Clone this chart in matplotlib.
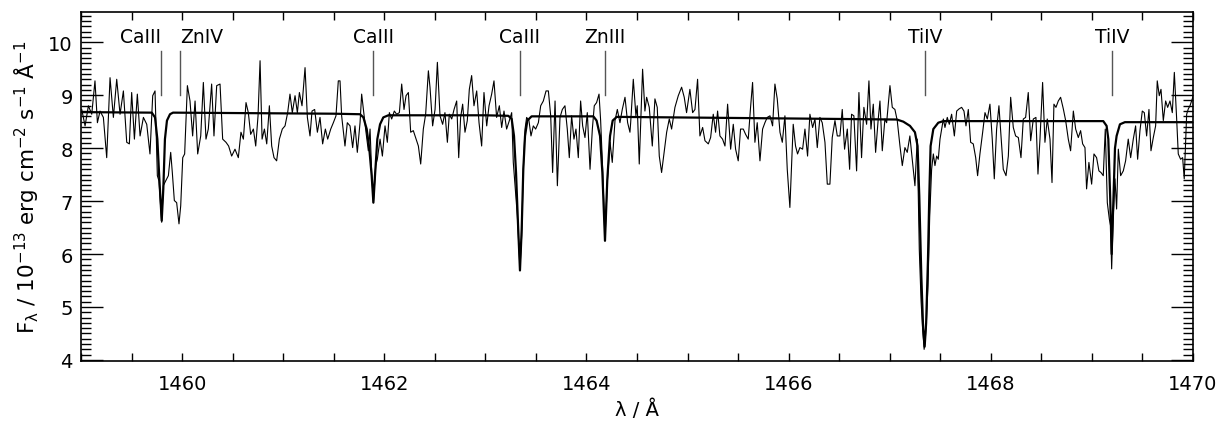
import numpy as np
import matplotlib.pyplot as plt
from matplotlib.ticker import MultipleLocator

plt.rcParams['font.family'] = 'DejaVu Sans'
plt.rcParams['mathtext.default'] = 'regular'

# observed spectrum (wavelength in A, flux in 1e-13 erg/cm2/s/A)
obs_wave = [
    1459.007, 1459.040, 1459.073, 1459.106, 1459.138, 1459.162, 1459.188, 1459.221, 1459.254, 1459.287,
    1459.320, 1459.353, 1459.386, 1459.419, 1459.452, 1459.478, 1459.501, 1459.528, 1459.557, 1459.584,
    1459.617, 1459.650, 1459.682, 1459.709, 1459.732, 1459.755, 1459.771, 1459.798, 1459.814, 1459.837,
    1459.864, 1459.887, 1459.903, 1459.923, 1459.946, 1459.969, 1459.986, 1460.006, 1460.025, 1460.052,
    1460.078, 1460.104, 1460.128, 1460.154, 1460.184, 1460.210, 1460.236, 1460.259, 1460.292, 1460.315,
    1460.342, 1460.375, 1460.401, 1460.434, 1460.460, 1460.490, 1460.523, 1460.556, 1460.582, 1460.606,
    1460.632, 1460.655, 1460.678, 1460.705, 1460.728, 1460.751, 1460.771, 1460.791, 1460.814, 1460.837,
    1460.863, 1460.886, 1460.909, 1460.935, 1460.962, 1460.991, 1461.018, 1461.044, 1461.067, 1461.090,
    1461.117, 1461.140, 1461.160, 1461.186, 1461.216, 1461.239, 1461.265, 1461.285, 1461.311, 1461.338,
    1461.364, 1461.390, 1461.417, 1461.440, 1461.470, 1461.496, 1461.522, 1461.545,
    1461.562, 1461.578, 1461.611, 1461.634, 1461.661, 1461.687, 1461.710, 1461.733, 1461.760, 1461.776,
    1461.799, 1461.819, 1461.842, 1461.859, 1461.875, 1461.892, 1461.915, 1461.931, 1461.958, 1461.981,
    1462.007, 1462.030, 1462.050, 1462.073, 1462.099, 1462.122, 1462.149, 1462.172, 1462.195, 1462.215,
    1462.238, 1462.261, 1462.287, 1462.314, 1462.337, 1462.360, 1462.386, 1462.409, 1462.436, 1462.452,
    1462.478, 1462.502, 1462.525, 1462.551, 1462.577, 1462.600, 1462.624, 1462.643, 1462.667, 1462.690,
    1462.716, 1462.736, 1462.755, 1462.775, 1462.798, 1462.821, 1462.841, 1462.864, 1462.887, 1462.914,
    1462.937, 1462.963, 1462.986, 1463.013, 1463.036, 1463.062, 1463.085, 1463.111, 1463.138, 1463.161,
    1463.184, 1463.210, 1463.237, 1463.260, 1463.276, 1463.293, 1463.316, 1463.342, 1463.359, 1463.375,
    1463.392, 1463.408, 1463.431, 1463.451, 1463.474, 1463.497, 1463.524, 1463.547, 1463.573, 1463.600,
    1463.623, 1463.646, 1463.665, 1463.689, 1463.712, 1463.738, 1463.761, 1463.787, 1463.810, 1463.830,
    1463.853, 1463.876, 1463.896, 1463.919, 1463.942, 1463.962, 1463.985, 1464.008, 1464.035, 1464.058,
    1464.077, 1464.100, 1464.124, 1464.140, 1464.160, 1464.183, 1464.206, 1464.233, 1464.255, 1464.282,
    1464.305, 1464.331, 1464.354, 1464.381, 1464.407, 1464.430,
    1464.437, 1464.463, 1464.489, 1464.502, 1464.522, 1464.555, 1464.578, 1464.595, 1464.621, 1464.651,
    1464.677, 1464.700, 1464.720, 1464.743, 1464.766, 1464.793, 1464.819, 1464.842, 1464.875, 1464.908,
    1464.941, 1464.967, 1464.990, 1465.023, 1465.050, 1465.073, 1465.099, 1465.122, 1465.149, 1465.172,
    1465.205, 1465.228, 1465.254, 1465.277, 1465.297, 1465.320, 1465.346, 1465.370, 1465.396, 1465.426,
    1465.452, 1465.475, 1465.501, 1465.524, 1465.551, 1465.574, 1465.600, 1465.623, 1465.643, 1465.666,
    1465.689, 1465.716, 1465.742, 1465.765, 1465.788, 1465.815, 1465.841, 1465.864, 1465.887, 1465.914,
    1465.937, 1465.963, 1465.986, 1466.012, 1466.045, 1466.068, 1466.088, 1466.111, 1466.138, 1466.161,
    1466.187, 1466.210, 1466.237, 1466.260, 1466.283, 1466.309, 1466.332, 1466.359, 1466.382, 1466.408,
    1466.431, 1466.458, 1466.481, 1466.507, 1466.530, 1466.553, 1466.580, 1466.603, 1466.622, 1466.645,
    1466.672, 1466.695, 1466.721, 1466.744, 1466.771, 1466.794, 1466.814, 1466.837, 1466.860, 1466.886,
    1466.903, 1466.926, 1466.952, 1466.969, 1467.002, 1467.025, 1467.051, 1467.074, 1467.101, 1467.124,
    1467.150, 1467.173, 1467.199, 1467.226, 1467.249, 1467.272, 1467.292,
    1467.310, 1467.325, 1467.340, 1467.350, 1467.362, 1467.378, 1467.395,
    1467.414, 1467.431, 1467.447, 1467.464, 1467.480, 1467.497, 1467.513, 1467.530, 1467.546, 1467.569,
    1467.589, 1467.612, 1467.639, 1467.662, 1467.685, 1467.711, 1467.734, 1467.754, 1467.777, 1467.800,
    1467.826, 1467.850, 1467.869, 1467.892, 1467.919, 1467.942, 1467.965, 1467.991, 1468.014, 1468.034,
    1468.057, 1468.080, 1468.103, 1468.123, 1468.150, 1468.173, 1468.196, 1468.222, 1468.245, 1468.272,
    1468.298, 1468.321, 1468.344, 1468.370, 1468.394, 1468.420, 1468.446, 1468.466, 1468.486, 1468.512,
    1468.535, 1468.558, 1468.585, 1468.605, 1468.624, 1468.644, 1468.667, 1468.690, 1468.717, 1468.740,
    1468.766, 1468.789, 1468.816, 1468.839, 1468.865, 1468.888, 1468.908, 1468.931, 1468.947, 1468.970,
    1468.997, 1469.020, 1469.046, 1469.069, 1469.089, 1469.112, 1469.132, 1469.152, 1469.172, 1469.185,
    1469.195, 1469.211, 1469.228, 1469.244, 1469.261, 1469.284, 1469.310, 1469.333, 1469.359, 1469.383,
    1469.409, 1469.432, 1469.452, 1469.475, 1469.498, 1469.518, 1469.541, 1469.564, 1469.584, 1469.607,
    1469.630, 1469.646, 1469.666, 1469.683, 1469.706, 1469.729, 1469.749, 1469.772, 1469.795, 1469.815,
    1469.838, 1469.854, 1469.877, 1469.897, 1469.913, 1469.937, 1469.953, 1469.970, 1469.986, 1470.003,
]
obs_flux = [
    8.73, 8.42, 8.80, 8.64, 9.27, 8.48, 8.70, 8.58, 7.82, 9.33,
    8.58, 9.30, 8.64, 9.08, 8.11, 8.08, 9.05, 8.17, 9.02, 8.23,
    8.58, 8.45, 7.89, 8.99, 9.08, 7.48, 7.38, 6.60, 7.29, 7.38,
    7.48, 7.92, 7.54, 7.01, 6.97, 6.57, 6.91, 7.82, 7.89, 9.18,
    8.89, 8.23, 8.89, 7.89, 8.23, 9.24, 8.17, 8.36, 9.21, 8.23,
    9.18, 9.21, 8.17, 8.11, 8.04, 7.85, 7.98, 7.82, 8.30, 8.17,
    8.86, 8.67, 8.26, 8.36, 8.04, 8.61, 9.65, 8.17, 8.36, 8.08,
    8.80, 8.04, 7.82, 7.76, 8.17, 8.36, 8.42, 8.67, 9.02, 8.67,
    8.99, 8.67, 9.05, 8.80, 9.52, 8.58, 8.23, 8.70, 8.73, 8.30,
    8.58, 8.08, 8.36, 8.17, 8.36, 8.48, 8.61, 9.27,
    9.27, 8.61, 8.04, 8.48, 8.42, 8.01, 8.42, 7.92, 8.48, 9.02,
    8.64, 8.30, 7.95, 8.36, 7.54, 6.97, 7.67, 7.79, 8.17, 7.85,
    8.42, 8.11, 8.67, 8.55, 8.70, 8.64, 8.67, 9.21, 8.73, 8.99,
    9.05, 8.30, 8.33, 8.17, 8.04, 7.70, 8.36, 8.64, 9.46, 9.15,
    8.42, 8.73, 9.62, 8.61, 8.45, 8.67, 8.11, 8.64, 8.55, 8.73,
    8.89, 7.82, 8.58, 8.83, 8.30, 8.52, 9.11, 9.37, 8.80, 9.08,
    8.48, 8.04, 9.05, 8.42, 8.80, 9.02, 9.27, 8.58, 8.80, 8.39,
    8.70, 8.36, 8.52, 8.67, 7.73, 7.29, 6.72, 5.72, 6.35, 7.60,
    8.36, 8.58, 8.52, 8.23, 8.42, 8.36, 8.48, 8.80, 8.89, 9.08,
    9.08, 8.61, 7.54, 8.89, 7.29, 8.58, 8.73, 8.80, 8.36, 7.82,
    8.61, 8.17, 8.36, 7.82, 8.89, 8.42, 8.20, 8.67, 7.60, 8.36,
    8.80, 8.86, 9.02, 8.52, 7.60, 6.28, 7.35, 8.11, 7.73, 8.52,
    8.73, 8.48, 8.73, 8.96, 8.48, 8.30,
    8.48, 9.30, 8.61, 8.80, 7.70, 9.49, 8.70, 8.96, 8.77, 8.04,
    8.93, 8.77, 7.85, 7.54, 7.89, 8.30, 8.55, 8.36, 8.77, 8.99,
    9.15, 8.96, 8.67, 9.11, 8.67, 8.73, 9.30, 8.23, 8.39, 8.14,
    8.08, 8.20, 8.64, 8.30, 8.70, 8.23, 8.17, 8.04, 8.83, 7.98,
    8.45, 7.98, 7.76, 8.36, 8.36, 8.26, 8.17, 8.77, 9.24, 8.11,
    8.48, 7.76, 8.36, 8.48, 8.58, 8.61, 8.42, 9.21, 8.93, 8.30,
    8.11, 8.61, 7.60, 6.88, 8.45, 8.04, 7.89, 8.01, 7.98, 8.36,
    7.85, 8.64, 8.39, 8.55, 8.01, 8.58, 8.48, 8.11, 7.32, 7.32,
    8.20, 8.52, 8.23, 8.23, 8.73, 7.98, 8.36, 7.60, 8.64, 8.61,
    7.57, 9.05, 7.82, 8.77, 8.45, 9.27, 8.36, 8.83, 7.92, 8.55,
    8.89, 7.95, 8.55, 8.48, 9.18, 8.77, 8.73, 8.52, 8.04, 7.67,
    8.01, 7.92, 8.23, 7.73, 7.29, 8.17, 6.09,
    5.10, 4.60, 4.20, 4.35, 4.70, 5.40, 6.70,
    7.60, 7.89, 7.67, 7.85, 7.79, 8.17, 8.36, 8.55, 8.39, 8.58,
    8.45, 8.64, 8.23, 8.70, 8.74, 8.77, 8.70, 8.42, 8.73, 8.11,
    8.08, 7.82, 7.48, 7.89, 8.30, 8.67, 8.55, 8.83, 8.17, 7.42,
    8.36, 8.80, 8.17, 7.60, 7.48, 7.85, 8.96, 8.39, 8.23, 8.20,
    7.82, 8.55, 8.58, 9.05, 8.14, 8.55, 8.58, 7.51, 8.17, 9.24,
    8.11, 8.55, 8.17, 7.35, 8.83, 8.77, 8.89, 8.96, 8.74, 8.52,
    8.17, 7.95, 8.70, 8.36, 8.20, 8.33, 8.08, 8.01, 7.23, 7.73,
    7.32, 7.89, 7.82, 7.57, 7.54, 7.48, 8.36, 6.97, 6.66, 6.53,
    5.72, 6.72, 7.42, 6.85, 7.98, 7.48, 7.57, 7.76, 8.17, 7.82,
    8.17, 8.42, 7.79, 8.33, 8.70, 8.67, 8.23, 8.73, 7.95, 8.20,
    8.42, 9.27, 8.99, 9.11, 8.52, 8.89, 8.77, 8.89, 8.67, 9.43,
    8.55, 7.89, 7.79, 7.82, 7.42, 8.64, 8.74, 8.80, 8.89, 8.99,
]

# synthetic spectrum
model_wave = [
    1459.000, 1459.700, 1459.732, 1459.755, 1459.775, 1459.798, 1459.814, 1459.830, 1459.850, 1459.880,
    1459.910, 1461.500, 1461.760, 1461.793, 1461.826, 1461.852, 1461.875, 1461.892, 1461.908, 1461.931,
    1461.958, 1461.990, 1462.040, 1463.000, 1463.227, 1463.260, 1463.283, 1463.303, 1463.322, 1463.342,
    1463.359, 1463.375, 1463.392, 1463.415, 1463.457, 1464.068, 1464.100, 1464.134, 1464.157, 1464.183,
    1464.206, 1464.233, 1464.259, 1464.300, 1466.000, 1467.070, 1467.134, 1467.200, 1467.249, 1467.275,
    1467.292, 1467.312, 1467.330, 1467.345, 1467.360, 1467.378, 1467.391, 1467.404, 1467.431, 1467.480,
    1467.530, 1468.500, 1469.112, 1469.145, 1469.162, 1469.180, 1469.195, 1469.212, 1469.228, 1469.244,
    1469.277, 1469.326, 1470.000,
]
model_flux = [
    8.68, 8.67, 8.58, 8.17, 7.41, 6.63, 7.23, 8.17, 8.52, 8.64,
    8.67, 8.65, 8.64, 8.58, 8.36, 7.98, 7.48, 6.97, 7.48, 8.17,
    8.45, 8.58, 8.62, 8.62, 8.61, 8.55, 8.23, 7.54, 6.60, 5.69,
    6.47, 7.60, 8.23, 8.52, 8.60, 8.60, 8.52, 8.23, 7.54, 6.25,
    7.41, 8.23, 8.52, 8.59, 8.56, 8.54, 8.50, 8.42, 8.30, 8.04,
    7.10, 5.60, 4.60, 4.25, 4.70, 5.90, 7.10, 8.04, 8.36, 8.48,
    8.51, 8.51, 8.51, 8.42, 8.17, 7.10, 6.00, 7.00, 8.00, 8.23,
    8.45, 8.49, 8.49,
]

# line identifications
line_names = ['CaIII', 'ZnIV', 'CaIII', 'CaIII', 'ZnIII', 'TiIV', 'TiIV']
line_waves = [1459.79, 1459.98, 1461.89, 1463.34, 1464.18, 1467.35, 1469.20]
line_align = ['right', 'left', 'center', 'center', 'center', 'center', 'center']

fig = plt.figure(figsize=(12.24, 4.27), dpi=100)
ax = fig.add_axes([0.0662, 0.1522, 0.9085, 0.8173])

ax.plot(obs_wave, obs_flux, color='black', lw=0.8)
ax.plot(model_wave, model_flux, color='black', lw=1.6)

for name, wl, ha in zip(line_names, line_waves, line_align):
    ax.plot([wl, wl], [9.0, 9.83], color='#555555', lw=1.0)
    ax.text(wl, 10.0, name, ha=ha, va='baseline', fontsize=13.5, color='black')

ax.set_xlim(1459, 1470)
ax.set_ylim(3.98, 10.57)

ax.xaxis.set_major_locator(MultipleLocator(2))
ax.xaxis.set_minor_locator(MultipleLocator(0.5))
ax.yaxis.set_major_locator(MultipleLocator(1))
ax.yaxis.set_minor_locator(MultipleLocator(0.1))
ax.tick_params(which='both', direction='in', top=True, right=True, labelsize=14, width=1)
ax.tick_params(axis='x', which='major', length=6, pad=9)
ax.tick_params(axis='x', which='minor', length=6)
ax.tick_params(axis='y', which='major', length=16, pad=6)
ax.tick_params(axis='y', which='minor', length=7)
for s in ax.spines.values():
    s.set_linewidth(1.2)

ax.set_xlabel('λ / Å', fontsize=14, labelpad=4)
ax.set_ylabel(r'F$_\lambda$ / 10$^{-13}$ erg cm$^{-2}$ s$^{-1}$ Å$^{-1}$', fontsize=15.5, labelpad=5)

fig.savefig('out.png', dpi=100)
